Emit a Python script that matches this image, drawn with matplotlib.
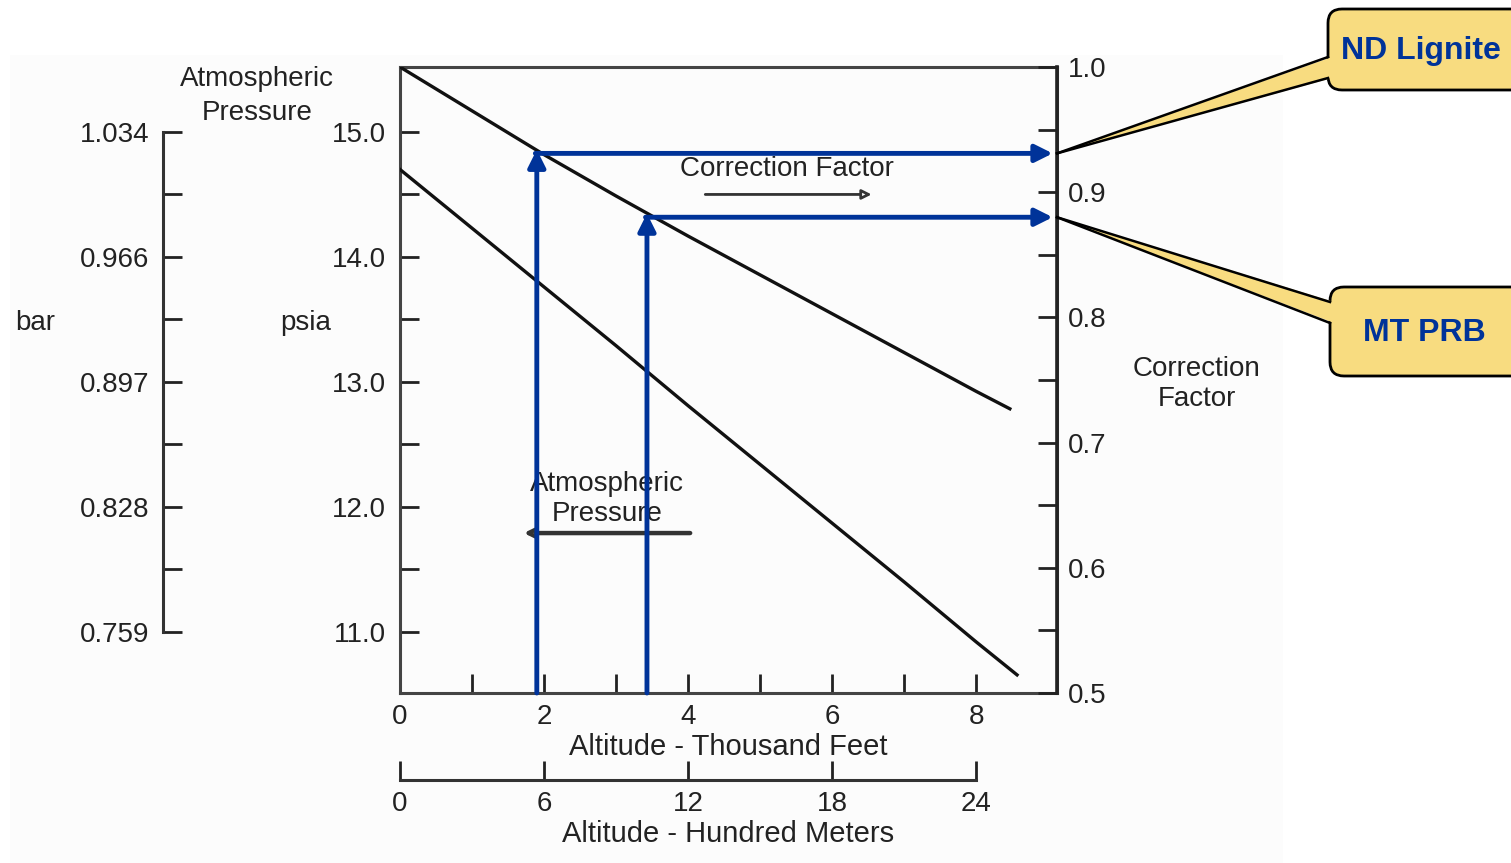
import matplotlib
matplotlib.use('Agg')
import matplotlib.pyplot as plt
import numpy as np
from matplotlib.patches import FancyBboxPatch, Polygon, Rectangle
from matplotlib.lines import Line2D
from matplotlib.transforms import IdentityTransform

W, H = 1511, 863

# correction factor curve (altitude in thousand feet)
alt_cf = [0, 1, 2, 3, 4, 5, 6, 7, 8, 8.47]
corr_factor = [1.0, 0.965, 0.930, 0.897, 0.865, 0.834, 0.803, 0.772, 0.741, 0.727]
# atmospheric pressure curve
alt_p = [0, 1, 2, 3, 4, 5, 6, 7, 8, 8.57]
pressure_psia = [14.70, 14.23, 13.76, 13.29, 12.81, 12.34, 11.87, 11.40, 10.92, 10.655]

psia_ticks = [15.0, 14.0, 13.0, 12.0, 11.0]
psia_minor = [14.5, 13.5, 12.5, 11.5]
bar_labels = ['1.034', '0.966', '0.897', '0.828', '0.759']
cf_ticks = [0.5, 0.6, 0.7, 0.8, 0.9, 1.0]
cf_minor = [0.55, 0.65, 0.75, 0.85, 0.95]
kft_ticks = [0, 2, 4, 6, 8]
kft_minor = [1, 3, 5, 7]
hm_ticks = [0, 6, 12, 18, 24]

sites = ['ND Lignite', 'MT PRB']
site_alt = [1.9, 3.43]
site_cf = [0.931, 0.880]

BLUE = '#003399'
YELLOW = '#F8DC80'
INK = '#222222'
XMAX = 9.125
FS = 20

plt.rcParams['font.family'] = ['Liberation Sans', 'DejaVu Sans']


def pix(x, y):
    # reference pixel (top-left origin) -> display coords
    return (x, H - y)


def ftext(x, y, s, **kw):
    kw.setdefault('ha', 'center')
    kw.setdefault('va', 'center')
    kw.setdefault('fontsize', FS)
    kw.setdefault('color', INK)
    fig.text(x / W, 1 - y / H, s, **kw)


def main():
    global fig
    fig = plt.figure(figsize=(W / 100, H / 100), dpi=100)
    fig.patches.append(Rectangle((10 / W, 0), 1273 / W, 1 - 55 / H, transform=fig.transFigure,
                                 fc='#FCFCFC', ec='none', zorder=-10))

    rect = [400 / W, (H - 693) / H, 657 / W, 626 / H]
    ax = fig.add_axes(rect)
    ax.patch.set_visible(False)
    ax.set_xlim(0, XMAX)
    ax.set_ylim(10.51, 15.52)
    for s in ax.spines.values():
        s.set_linewidth(2.2)
        s.set_color('#444444')

    ax.plot(alt_p, pressure_psia, color='#111111', lw=2.4, zorder=3)

    ax.set_xticks(kft_ticks)
    ax.set_xticks(kft_minor, minor=True)
    ax.set_yticks(psia_ticks)
    ax.set_yticklabels(['%.1f' % v for v in psia_ticks])
    ax.set_yticks(psia_minor, minor=True)
    ax.tick_params(which='both', direction='in', length=14, width=2, colors='#222',
                   labelsize=FS, labelcolor=INK)
    ax.tick_params(axis='x', pad=8)
    ax.tick_params(axis='y', pad=10)

    # correction factor on the right
    ax_cf = ax.twinx()
    ax_cf.set_ylim(0.5, 1.0)
    ax_cf.plot(alt_cf, corr_factor, color='#111111', lw=2.4, zorder=3)
    ax_cf.set_yticks(cf_ticks)
    ax_cf.set_yticklabels(['%.1f' % v for v in cf_ticks])
    ax_cf.set_yticks(cf_minor, minor=True)
    ax_cf.tick_params(which='both', direction='in', length=14, width=2, colors='#222',
                      labelsize=FS, labelcolor=INK, pad=8)
    for s in ax_cf.spines.values():
        s.set_visible(False)
    ax_cf.spines['right'].set_visible(True)
    ax_cf.spines['right'].set_linewidth(2.6)
    ax_cf.spines['right'].set_color('#222222')

    # bar scale, a separate spine left of the psia axis (237 px out)
    ax_bar = fig.add_axes(rect)
    ax_bar.patch.set_visible(False)
    ax_bar.set_ylim(10.51, 15.52)
    ax_bar.set_xticks([])
    for s in ax_bar.spines.values():
        s.set_visible(False)
    ax_bar.spines['left'].set_visible(True)
    ax_bar.spines['left'].set_position(('outward', 237 * 72 / 100))
    ax_bar.spines['left'].set_bounds(11.0, 15.0)
    ax_bar.spines['left'].set_linewidth(2.2)
    ax_bar.spines['left'].set_color('#333333')
    ax_bar.set_yticks(psia_ticks)
    ax_bar.set_yticklabels(bar_labels)
    ax_bar.set_yticks(psia_minor, minor=True)
    ax_bar.tick_params(which='both', direction='in', length=14, width=2, colors='#222',
                       labelsize=FS, labelcolor=INK, pad=10)

    # hundred meters scale below
    ax_m = fig.add_axes([400 / W, (H - 780) / H, 657 / W, 0.001])
    ax_m.patch.set_visible(False)
    ax_m.set_xlim(0, XMAX * 3)
    ax_m.set_yticks([])
    for s in ax_m.spines.values():
        s.set_visible(False)
    ax_m.spines['bottom'].set_visible(True)
    ax_m.spines['bottom'].set_bounds(0, 24)
    ax_m.spines['bottom'].set_linewidth(2.2)
    ax_m.spines['bottom'].set_color('#333333')
    ax_m.set_xticks(hm_ticks)
    ax_m.tick_params(direction='in', length=14, width=2, colors='#222',
                     labelsize=FS, labelcolor=INK, pad=8)

    # text labels
    ftext(257, 96, 'Atmospheric\nPressure', linespacing=1.4)
    ftext(35, 323, 'bar')
    ftext(306, 323, 'psia')
    ftext(1197, 384, 'Correction\nFactor', linespacing=1.2)
    ftext(728, 747, 'Altitude - Thousand Feet', fontsize=21)
    ftext(728, 834, 'Altitude - Hundred Meters', fontsize=21)

    ax.text(5.375, 14.70, 'Correction Factor', ha='center', va='center', fontsize=FS, color=INK, zorder=2)
    ax.annotate('', xy=(6.55, 14.50), xytext=(4.24, 14.50),
                arrowprops=dict(arrowstyle='-|>', lw=2, ec='#333', fc='white',
                                mutation_scale=14, shrinkA=0, shrinkB=0), zorder=2)
    ax.text(2.875, 12.06, 'Atmospheric\nPressure', ha='center', va='center', fontsize=FS,
            color=INK, linespacing=1.2, zorder=2)
    ax.annotate('', xy=(1.72, 11.79), xytext=(4.03, 11.79),
                arrowprops=dict(arrowstyle='-|>', lw=3.2, ec='#333', fc='white',
                                mutation_scale=12, shrinkA=0, shrinkB=0), zorder=2)

    # blue read-off arrows
    for a, cf in zip(site_alt, site_cf):
        ax_cf.annotate('', xy=(a, cf + 0.003), xytext=(a, 0.5),
                       arrowprops=dict(arrowstyle='-|>', lw=3.5, color=BLUE,
                                       mutation_scale=26, shrinkA=0, shrinkB=0), zorder=5)
        ax_cf.annotate('', xy=(XMAX - 0.06, cf), xytext=(a - 0.02, cf),
                       arrowprops=dict(arrowstyle='-|>', lw=3.5, color=BLUE,
                                       mutation_scale=26, shrinkA=0, shrinkB=0), zorder=5)

    # callout boxes
    boxes = [(1328, 9, 200, 81, 57, 78, 1421, 51), (1330, 287, 200, 89, 302, 323, 1424, 333)]
    for name, cf, (bx, by, bw, bh, w0, w1, tx, ty) in zip(sites, site_cf, boxes):
        x0, y0 = pix(bx, by + bh)
        fig.patches.append(FancyBboxPatch((x0, y0), bw, bh, boxstyle='round,pad=0,rounding_size=14',
                                          transform=IdentityTransform(), fc=YELLOW, ec='black',
                                          lw=2.0, zorder=6))
        tip = ax_cf.transData.transform((XMAX, cf))
        a0 = pix(bx + 4, w0)
        a1 = pix(bx + 4, w1)
        fig.patches.append(Polygon([a0, tip, a1], closed=True, transform=IdentityTransform(),
                                   fc=YELLOW, ec='none', zorder=7))
        for p in (a0, a1):
            fig.lines.append(Line2D([p[0] - 4, tip[0]], [p[1], tip[1]], transform=IdentityTransform(),
                                    color='black', lw=1.8, zorder=8))
        ftext(tx, ty, name, fontsize=23, fontweight='bold', color=BLUE, zorder=9)

    fig.savefig('out.png', dpi=100)


if __name__ == "__main__":
    main()
